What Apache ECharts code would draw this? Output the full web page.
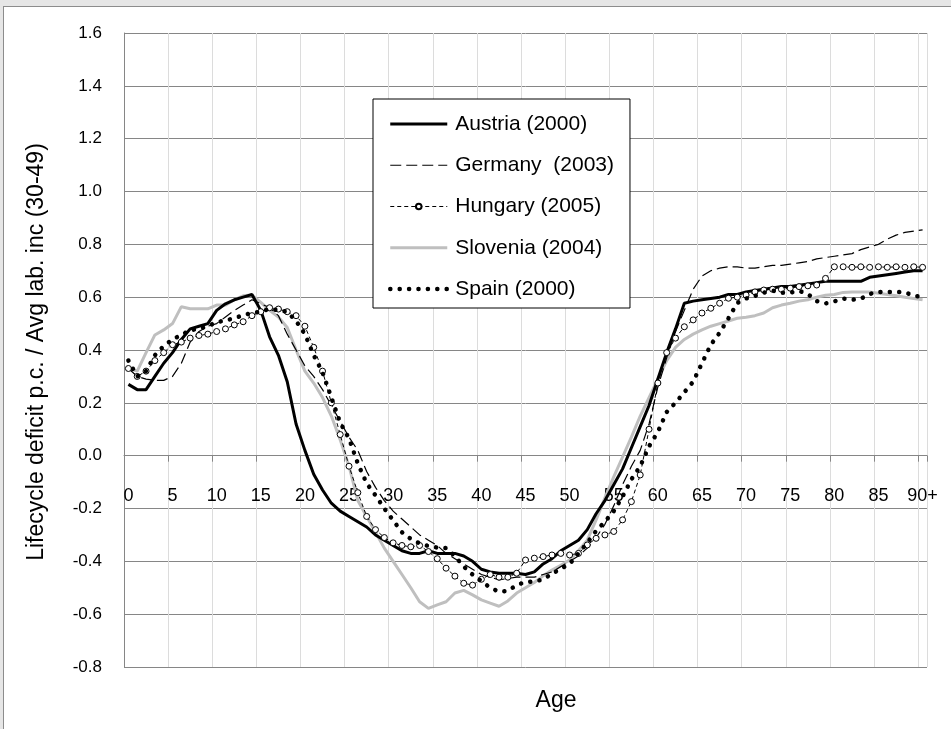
<!DOCTYPE html>
<html>
<head>
<meta charset="utf-8">
<script src="https://cdn.jsdelivr.net/npm/echarts@6/dist/echarts.min.js"></script>
<style>
  html, body { margin: 0; padding: 0; background: #e6e6e6; width: 951px; height: 729px; overflow: hidden; }
  #chart { position: absolute; left: 3px; top: 6px; width: 947px; height: 722px; background: #fff;
           border-left: 1px solid #8c8c8c; border-top: 1px solid #8c8c8c; }
</style>
</head>
<body>
<div id="chart"></div>
<script>
// Age groups 0 .. 90+
const ages = ['0','1','2','3','4','5','6','7','8','9',
  '10','11','12','13','14','15','16','17','18','19',
  '20','21','22','23','24','25','26','27','28','29',
  '30','31','32','33','34','35','36','37','38','39',
  '40','41','42','43','44','45','46','47','48','49',
  '50','51','52','53','54','55','56','57','58','59',
  '60','61','62','63','64','65','66','67','68','69',
  '70','71','72','73','74','75','76','77','78','79',
  '80','81','82','83','84','85','86','87','88','89','90+'];

const seriesNames = ['Austria (2000)', 'Germany  (2003)', 'Hungary (2005)', 'Slovenia (2004)', 'Spain (2000)'];

// Lifecycle deficit per capita relative to average labour income (ages 30-49)
const austria = [0.27,0.25,0.25,0.30,0.35,0.39,0.44,0.48,0.49,0.50,
  0.55,0.575,0.59,0.60,0.61,0.55,0.45,0.38,0.28,0.12,
  0.02,-0.07,-0.13,-0.18,-0.21,-0.23,-0.25,-0.27,-0.30,-0.32,
  -0.34,-0.36,-0.37,-0.37,-0.36,-0.37,-0.37,-0.37,-0.38,-0.40,
  -0.43,-0.44,-0.445,-0.445,-0.445,-0.45,-0.44,-0.41,-0.39,-0.36,
  -0.34,-0.32,-0.28,-0.22,-0.17,-0.11,-0.05,0.03,0.11,0.19,
  0.29,0.39,0.48,0.577,0.585,0.59,0.595,0.60,0.61,0.61,
  0.62,0.625,0.63,0.635,0.64,0.64,0.645,0.65,0.655,0.66,
  0.66,0.66,0.66,0.66,0.675,0.68,0.685,0.69,0.695,0.70,
  0.70];

const germany = [0.33,0.30,0.29,0.285,0.285,0.30,0.35,0.43,0.47,0.49,
  0.50,0.525,0.55,0.57,0.59,0.575,0.56,0.53,0.46,0.40,
  0.34,0.30,0.25,0.19,0.13,0.07,0.02,-0.06,-0.12,-0.17,
  -0.21,-0.24,-0.27,-0.30,-0.32,-0.34,-0.37,-0.39,-0.41,-0.43,
  -0.45,-0.46,-0.47,-0.465,-0.46,-0.46,-0.46,-0.45,-0.44,-0.42,
  -0.40,-0.38,-0.35,-0.31,-0.26,-0.19,-0.11,-0.04,0.02,0.12,
  0.26,0.37,0.47,0.55,0.63,0.68,0.70,0.71,0.715,0.715,
  0.71,0.71,0.715,0.72,0.72,0.725,0.73,0.735,0.745,0.75,
  0.755,0.76,0.765,0.78,0.79,0.80,0.82,0.835,0.845,0.85,
  0.855];

const hungary = [0.33,0.30,0.32,0.36,0.39,0.42,0.43,0.445,0.455,0.46,
  0.47,0.48,0.495,0.507,0.53,0.545,0.56,0.555,0.545,0.53,
  0.49,0.41,0.32,0.20,0.08,-0.04,-0.14,-0.23,-0.28,-0.31,
  -0.33,-0.34,-0.345,-0.34,-0.363,-0.39,-0.426,-0.456,-0.483,-0.49,
  -0.468,-0.45,-0.46,-0.46,-0.445,-0.395,-0.388,-0.382,-0.376,-0.37,
  -0.376,-0.37,-0.338,-0.313,-0.30,-0.287,-0.243,-0.174,-0.073,0.10,
  0.275,0.39,0.445,0.488,0.514,0.54,0.558,0.577,0.596,0.60,
  0.608,0.62,0.627,0.63,0.63,0.634,0.64,0.643,0.646,0.671,
  0.715,0.715,0.713,0.715,0.713,0.715,0.713,0.715,0.713,0.715,
  0.713];

const slovenia = [0.33,0.32,0.39,0.457,0.476,0.50,0.564,0.556,0.556,0.556,
  0.57,0.57,0.59,0.605,0.608,0.58,0.55,0.525,0.485,0.40,
  0.32,0.275,0.22,0.15,0.06,-0.04,-0.17,-0.23,-0.29,-0.35,
  -0.40,-0.45,-0.50,-0.553,-0.578,-0.565,-0.553,-0.52,-0.51,-0.527,
  -0.546,-0.558,-0.57,-0.55,-0.52,-0.50,-0.48,-0.455,-0.433,-0.415,
  -0.395,-0.36,-0.32,-0.243,-0.16,-0.08,-0.005,0.07,0.15,0.22,
  0.29,0.36,0.41,0.44,0.46,0.476,0.49,0.50,0.51,0.52,
  0.524,0.53,0.54,0.56,0.57,0.577,0.585,0.59,0.60,0.607,
  0.61,0.618,0.62,0.62,0.62,0.615,0.61,0.605,0.60,0.595,
  0.59];

const spain = [0.36,0.30,0.32,0.38,0.415,0.44,0.457,0.475,0.48,0.49,
  0.505,0.512,0.52,0.532,0.54,0.545,0.556,0.55,0.545,0.51,
  0.46,0.38,0.315,0.22,0.125,0.065,-0.03,-0.105,-0.15,-0.20,
  -0.245,-0.29,-0.315,-0.332,-0.342,-0.348,-0.35,-0.38,-0.42,-0.45,
  -0.475,-0.50,-0.515,-0.512,-0.49,-0.478,-0.477,-0.468,-0.447,-0.428,
  -0.41,-0.37,-0.33,-0.285,-0.25,-0.21,-0.155,-0.09,-0.04,0.035,
  0.09,0.165,0.20,0.24,0.28,0.35,0.42,0.465,0.52,0.578,
  0.595,0.605,0.617,0.625,0.617,0.617,0.624,0.612,0.585,0.576,
  0.584,0.595,0.59,0.594,0.612,0.62,0.62,0.62,0.618,0.606,
  0.60];

// Value axis range
const yMin = -0.8, yMax = 1.6, yStep = 0.2;

const FONT = '"Liberation Sans", Arial, sans-serif';
const GRID_DARK = '#868686';
const GRID_LIGHT = '#dcdcdc';

const CHART_H = 722;
const GRID = { left: 120, right: 24, top: 26, bottom: 62 };
const plotHeight = CHART_H - GRID.top - GRID.bottom;
// the category axis crosses the value axis at zero
const xAxisOffset = -plotHeight * (0 - yMin) / (yMax - yMin);

// line styles shared by the plotted series and their legend keys
const lineStyles = [
  { color: '#000', width: 3 },
  { color: '#000', width: 1.2, type: [11, 5] },
  { color: '#000', width: 1, type: [4, 3] },
  { color: '#bfbfbf', width: 3 },
  { color: '#000', width: 4.5, type: [0.1, 9.3], cap: 'round' }
];

const chart = echarts.init(document.getElementById('chart'), null, { renderer: 'canvas' });

// legend entries: only Hungary keeps its marker in the key
const legendData = seriesNames.map((n, i) => i === 2
  ? { name: n, lineStyle: lineStyles[i] }
  : { name: n, lineStyle: lineStyles[i], itemStyle: { opacity: 0 } });

chart.setOption({
  animation: false,
  backgroundColor: '#fff',
  grid: Object.assign({ containLabel: false }, GRID),
  xAxis: {
    type: 'category',
    data: ages,
    boundaryGap: true,
    offset: xAxisOffset,
    axisLine: { onZero: false, lineStyle: { color: GRID_DARK, width: 1 } },
    axisTick: { show: true, interval: 4, length: 6, lineStyle: { color: GRID_DARK } },
    axisLabel: { interval: 4, margin: 31, fontSize: 18, fontFamily: FONT, color: '#000' },
    splitLine: { show: true, interval: 4, lineStyle: { color: GRID_LIGHT, width: 1 } }
  },
  yAxis: {
    type: 'value',
    min: yMin, max: yMax, interval: yStep,
    axisLine: { show: true, lineStyle: { color: GRID_DARK, width: 1 } },
    axisTick: { show: false },
    axisLabel: {
      margin: 22, fontSize: 17, fontFamily: FONT, color: '#000',
      formatter: v => (Math.abs(v) < 1e-9 ? 0 : v).toFixed(1)
    },
    splitLine: { show: true, lineStyle: { color: GRID_DARK, width: 1 } }
  },
  legend: {
    data: legendData,
    orient: 'vertical',
    left: 369, top: 92,
    selectedMode: false,
    itemWidth: 57, itemHeight: 7, itemGap: 19.25,
    padding: [14, 16, 8, 15],
    borderColor: '#000', borderWidth: 1,
    backgroundColor: '#fff',
    textStyle: { fontSize: 21, fontFamily: FONT, color: '#000', lineHeight: 22, padding: [0, 0, 0, 3] }
  },
  graphic: [
    {
      type: 'text', x: 33, y: 345, rotation: Math.PI / 2,
      style: { text: 'Lifecycle deficit p.c. / Avg lab. inc (30-49)', fontSize: 23, fontFamily: FONT,
               fill: '#000', align: 'center', verticalAlign: 'middle' }
    },
    {
      type: 'text', x: 552, y: 694,
      style: { text: 'Age', fontSize: 23, fontFamily: FONT, fill: '#000', align: 'center', verticalAlign: 'middle' }
    }
  ],
  series: [
    {
      name: seriesNames[0], type: 'line', data: austria, symbol: 'none', color: '#000', z: 3,
      lineStyle: lineStyles[0], emphasis: { disabled: true }
    },
    {
      name: seriesNames[1], type: 'line', data: germany, symbol: 'none', color: '#000', z: 3,
      lineStyle: lineStyles[1], emphasis: { disabled: true }
    },
    {
      name: seriesNames[2], type: 'line', data: hungary, symbol: 'circle', symbolSize: 6,
      showSymbol: true, showAllSymbol: true, z: 4,
      itemStyle: { color: '#fff', borderColor: '#000', borderWidth: 1 },
      lineStyle: lineStyles[2], emphasis: { disabled: true }
    },
    {
      name: seriesNames[3], type: 'line', data: slovenia, symbol: 'none', color: '#bfbfbf', z: 2,
      lineStyle: lineStyles[3], emphasis: { disabled: true }
    },
    {
      name: seriesNames[4], type: 'line', data: spain, symbol: 'none', color: '#000', z: 5,
      lineStyle: lineStyles[4], emphasis: { disabled: true }
    }
  ]
});
</script>
</body>
</html>
